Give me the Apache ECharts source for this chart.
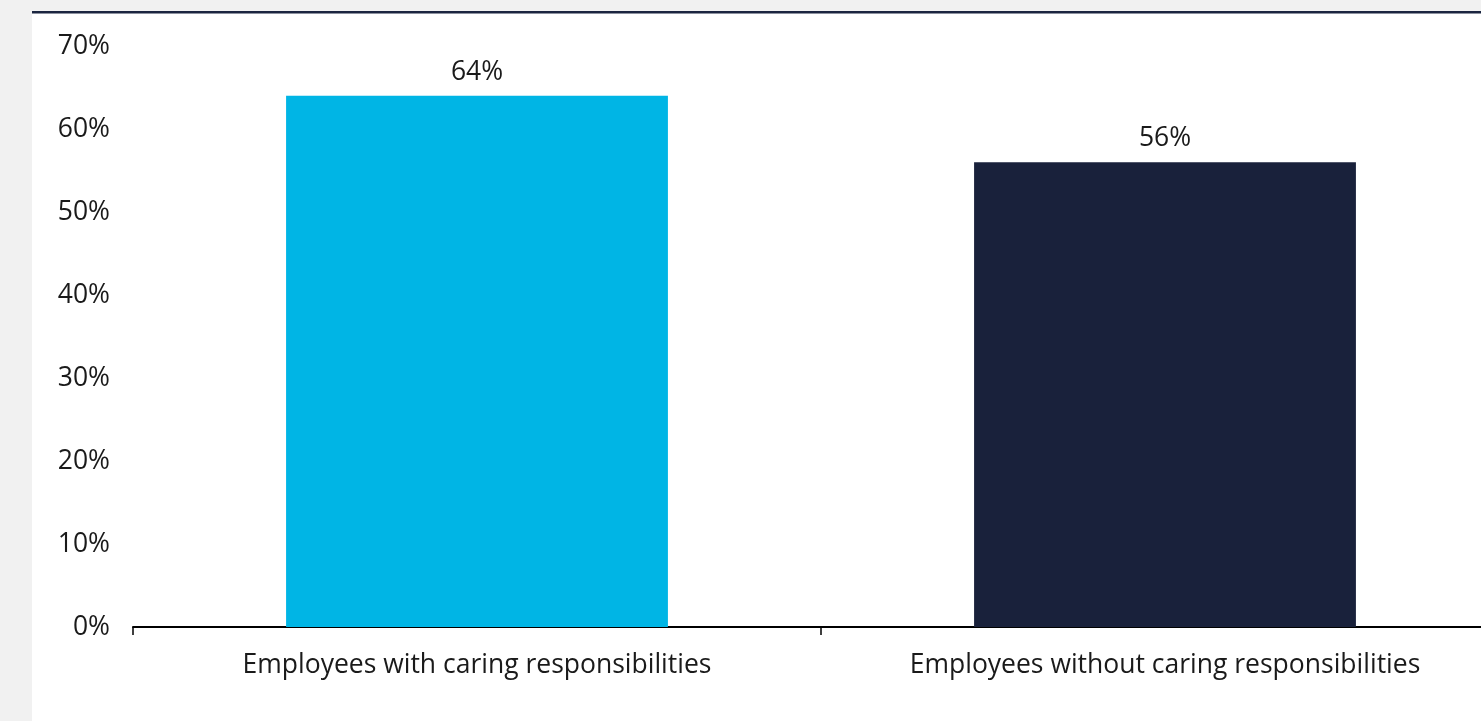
<!DOCTYPE html>
<html><head><meta charset="utf-8">
<script src="https://cdn.jsdelivr.net/npm/echarts@6/dist/echarts.min.js"></script>
<style>html,body{margin:0;padding:0;background:#f1f1f1;}#c{width:1481px;height:721px;}</style>
</head><body><div id="c"></div>
<script>
const categories = ["Employees with caring responsibilities", "Employees without caring responsibilities"];
const values = [64, 56];
const barColors = ["#00b5e5", "#19213b"];
const yMax = 70, yStep = 10;

const chart = echarts.init(document.getElementById('c'));
const font = '"Open Sans", sans-serif';
chart.setOption({
  backgroundColor: '#f1f1f1',
  animation: false,
  graphic: [
    {type: 'rect', z: -10, shape: {x: 32, y: 12, width: 1449, height: 709}, style: {fill: '#ffffff'}},
    {type: 'rect', z: -9, shape: {x: 32, y: 11, width: 1449, height: 2.5}, style: {fill: '#1b2540'}}
  ],
  grid: {left: 133, top: 46, bottom: 94, right: -28, outerBoundsMode: 'none', containLabel: false},
  xAxis: {
    type: 'category', data: categories,
    axisLine: {lineStyle: {color: '#000', width: 2}},
    axisTick: {show: true, alignWithLabel: false, interval: 0, length: 8, lineStyle: {color: '#000', width: 1.5}},
    axisLabel: {color: '#1a1a1a', fontSize: 26.5, fontFamily: font, margin: 25}
  },
  yAxis: {
    type: 'value', min: 0, max: yMax, interval: yStep,
    splitLine: {show: false}, axisLine: {show: false}, axisTick: {show: false},
    axisLabel: {color: '#1a1a1a', fontSize: 26.5, fontFamily: font, margin: 23, formatter: '{value}%'}
  },
  series: [{
    type: 'bar', barWidth: '55.5%',
    data: values.map((v, i) => ({value: v, itemStyle: {color: barColors[i]}})),
    label: {show: true, position: 'top', distance: 10, color: '#1a1a1a', fontSize: 26.5, fontFamily: font, formatter: '{c}%'}
  }]
});
</script></body></html>
